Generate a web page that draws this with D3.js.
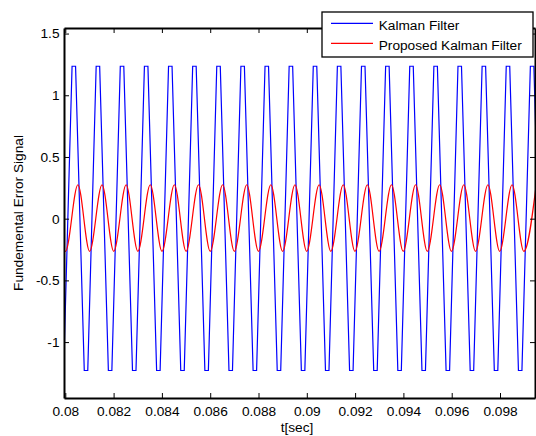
<!DOCTYPE html>
<html>
<head>
<meta charset="utf-8">
<script src="https://cdn.jsdelivr.net/npm/d3@7"></script>
<style>
  html, body { margin: 0; padding: 0; background: #fff; }
  svg { display: block; }
  text { font-family: "Liberation Sans", Arial, sans-serif; }
</style>
</head>
<body>
<svg id="chart" width="536" height="436"></svg>
<script>
// ---------- data ----------
const xTicks = [0.08, 0.082, 0.084, 0.086, 0.088, 0.09, 0.092, 0.094, 0.096, 0.098];
const xTickLabels = ["0.08", "0.082", "0.084", "0.086", "0.088", "0.09", "0.092", "0.094", "0.096", "0.098"];
const yTicks = [-1, -0.5, 0, 0.5, 1, 1.5];
const yTickLabels = ["-1", "-0.5", "0", "0.5", "1", "1.5"];

const seriesNames = ["Kalman Filter", "Proposed Kalman Filter"];

// Kalman Filter: vertices of the clipped wave (time in s)
const kalmanT = [
  0.079786, 0.079931, 0.080280, 0.080425,
  0.080785, 0.080930, 0.081278, 0.081423,
  0.081783, 0.081928, 0.082277, 0.082422,
  0.082782, 0.082927, 0.083276, 0.083421,
  0.083781, 0.083926, 0.084275, 0.084420,
  0.084780, 0.084925, 0.085274, 0.085419,
  0.085779, 0.085924, 0.086272, 0.086417,
  0.086777, 0.086922, 0.087271, 0.087416,
  0.087776, 0.087921, 0.088270, 0.088415,
  0.088775, 0.088920, 0.089269, 0.089414,
  0.089774, 0.089919, 0.090268, 0.090413,
  0.090773, 0.090918, 0.091266, 0.091411,
  0.091771, 0.091916, 0.092265, 0.092410,
  0.092770, 0.092915, 0.093264, 0.093409,
  0.093769, 0.093914, 0.094263, 0.094408,
  0.094768, 0.094913, 0.095262, 0.095407,
  0.095767, 0.095912, 0.096260, 0.096405,
  0.096765, 0.096910, 0.097259, 0.097404,
  0.097764, 0.097909, 0.098258, 0.098403,
  0.098763, 0.098908, 0.099257, 0.099402,
  0.099762, 0.099907
];
const kalmanV = [
  -1.23, -1.23, 1.235, 1.235,
  -1.23, -1.23, 1.235, 1.235,
  -1.23, -1.23, 1.235, 1.235,
  -1.23, -1.23, 1.235, 1.235,
  -1.23, -1.23, 1.235, 1.235,
  -1.23, -1.23, 1.235, 1.235,
  -1.23, -1.23, 1.235, 1.235,
  -1.23, -1.23, 1.235, 1.235,
  -1.23, -1.23, 1.235, 1.235,
  -1.23, -1.23, 1.235, 1.235,
  -1.23, -1.23, 1.235, 1.235,
  -1.23, -1.23, 1.235, 1.235,
  -1.23, -1.23, 1.235, 1.235,
  -1.23, -1.23, 1.235, 1.235,
  -1.23, -1.23, 1.235, 1.235,
  -1.23, -1.23, 1.235, 1.235,
  -1.23, -1.23, 1.235, 1.235,
  -1.23, -1.23, 1.235, 1.235,
  -1.23, -1.23, 1.235, 1.235,
  -1.23, -1.23, 1.235, 1.235,
  -1.23, -1.23
];

// Proposed Kalman Filter: peaks and troughs (time in s)
const proposedT = [
  0.079523, 0.080008, 0.080522, 0.081007, 0.081521, 0.082006, 0.082519,
  0.083005, 0.083518, 0.084004, 0.084517, 0.085002, 0.085516, 0.086001,
  0.086515, 0.087000, 0.087513, 0.087999, 0.088512, 0.088998, 0.089511,
  0.089996, 0.090510, 0.090995, 0.091509, 0.091994, 0.092507, 0.092993,
  0.093506, 0.093992, 0.094505, 0.094990, 0.095504, 0.095989, 0.096503,
  0.096988, 0.097501, 0.097987, 0.098500, 0.098986, 0.099499
];
const proposedV = [
  0.275, -0.265, 0.275, -0.265, 0.275, -0.265, 0.275,
  -0.265, 0.275, -0.265, 0.275, -0.265, 0.275, -0.265,
  0.275, -0.265, 0.275, -0.265, 0.275, -0.265, 0.275,
  -0.265, 0.275, -0.265, 0.275, -0.265, 0.275, -0.265,
  0.275, -0.265, 0.275, -0.265, 0.275, -0.265, 0.275,
  -0.265, 0.275, -0.265, 0.275, -0.265, 0.275
];

// ---------- drawing ----------
const svg = d3.select("#chart");
const L = 64, R = 535, T = 28, B = 398;

const x = d3.scaleLinear().domain([0.079946, 0.099449]).range([L, R]);
const y = d3.scaleLinear().domain([-1.453, 1.545]).range([B, T]);

svg.append("defs").append("clipPath").attr("id", "plotclip")
  .append("rect").attr("x", L).attr("y", T).attr("width", R - L).attr("height", B - T);

svg.append("rect").attr("x", L).attr("y", T).attr("width", R - L).attr("height", B - T).attr("fill", "#fff");

const kalman = kalmanT.map((t, i) => ({ t: t, v: kalmanV[i] }));
const proposed = proposedT.map((t, i) => ({ t: t, v: proposedV[i] }));

const plot = svg.append("g").attr("clip-path", "url(#plotclip)");

plot.append("path").datum(kalman)
  .attr("fill", "none").attr("stroke", "#0000ff").attr("stroke-width", 1.2)
  .attr("d", d3.line().x(d => x(d.t)).y(d => y(d.v)));

plot.append("path").datum(proposed)
  .attr("fill", "none").attr("stroke", "#ff0000").attr("stroke-width", 1.2)
  .attr("d", d3.line().curve(d3.curveMonotoneX).x(d => x(d.t)).y(d => y(d.v)));

const fontSize = "13.7px";

function styleAxis(g) {
  g.select(".domain").attr("stroke", "#000").attr("stroke-width", 2);
  g.selectAll(".tick line").attr("stroke", "#000").attr("stroke-width", 1);
  g.selectAll(".tick text").attr("fill", "#000").style("font-size", fontSize)
    .style("font-family", '"Liberation Sans", Arial, sans-serif');
  g.attr("font-family", null).attr("font-size", null);
}

svg.append("g").attr("transform", `translate(0,${B})`)
  .call(d3.axisBottom(x).tickValues(xTicks).tickFormat((d, i) => xTickLabels[i])
    .tickSizeInner(-5).tickSizeOuter(0).tickPadding(7.8))
  .call(styleAxis);

svg.append("g").attr("transform", `translate(0,${T})`)
  .call(d3.axisTop(x).tickValues(xTicks).tickFormat(() => "")
    .tickSizeInner(-5).tickSizeOuter(0))
  .call(styleAxis);

svg.append("g").attr("transform", `translate(${L},0)`)
  .call(d3.axisLeft(y).tickValues(yTicks).tickFormat((d, i) => yTickLabels[i])
    .tickSizeInner(-5).tickSizeOuter(0).tickPadding(4.5))
  .call(styleAxis);

svg.append("g").attr("transform", `translate(${R},0)`)
  .call(d3.axisRight(y).tickValues(yTicks).tickFormat(() => "")
    .tickSizeInner(-5).tickSizeOuter(0))
  .call(styleAxis);

// axis titles
svg.append("text").attr("x", 297).attr("y", 431.5)
  .attr("text-anchor", "middle").style("font-size", fontSize).attr("fill", "#000")
  .text("t[sec]");

svg.append("text").attr("transform", `translate(22.5,${(T + B) / 2}) rotate(-90)`)
  .attr("text-anchor", "middle").style("font-size", fontSize).attr("fill", "#000")
  .text("Fundemental Error Signal");

// legend
const leg = svg.append("g");
leg.append("rect").attr("x", 322).attr("y", 12).attr("width", 211).attr("height", 45)
  .attr("fill", "#fff").attr("stroke", "#000").attr("stroke-width", 1.3);
const legColors = ["#0000ff", "#ff0000"];
const legLineY = [23.3, 43.3];
const legTextY = [29.5, 49.7];
seriesNames.forEach((name, i) => {
  leg.append("line").attr("x1", 331).attr("x2", 373).attr("y1", legLineY[i]).attr("y2", legLineY[i])
    .attr("stroke", legColors[i]).attr("stroke-width", 1.2);
  leg.append("text").attr("x", 378.7).attr("y", legTextY[i])
    .style("font-size", fontSize).attr("fill", "#000").text(name);
});
</script>
</body>
</html>
